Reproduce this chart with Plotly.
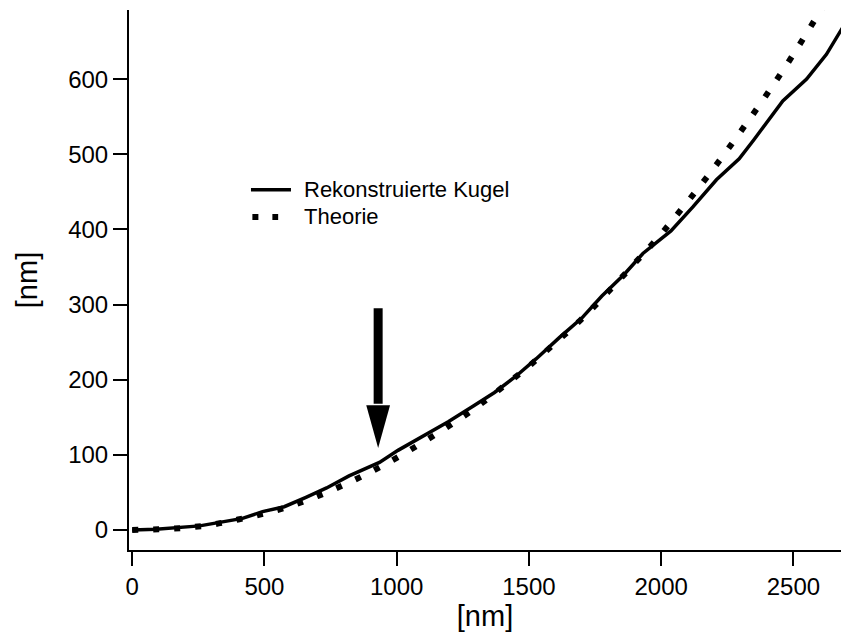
import plotly.graph_objects as go

# Reconstructed sphere profile (solid)
rek_x = [0, 90, 255, 330, 417, 493, 575, 657, 735, 820, 935, 1005, 1100, 1195, 1290,
         1370, 1452, 1528, 1615, 1700, 1775, 1860, 1931, 2037, 2120, 2209, 2295, 2350,
         2460, 2550, 2625, 2685]
rek_y = [0, 1, 5.5, 10, 15.5, 24.5, 31, 43.5, 56, 72, 90, 106, 125, 144, 165,
         183, 205, 228, 256, 282, 311, 340, 368, 398, 430, 466, 494, 519,
         571, 600, 633, 668]

# Theory (dotted)
theo_x = [0, 100, 200, 300, 400, 500, 600, 700, 800, 900, 1000, 1100, 1200, 1300,
          1400, 1500, 1600, 1700, 1800, 1900, 2000, 2100, 2200, 2300, 2400, 2500,
          2600, 2700]
theo_y = [0, 1, 3, 7, 14, 22, 32, 45, 60, 77, 96, 117, 139, 163,
          190, 218, 249, 281, 317, 355, 394, 437, 482, 530, 580, 633,
          690, 750]

series_names = ["Rekonstruierte Kugel", "Theorie"]

x_ticks = [0, 500, 1000, 1500, 2000, 2500]
y_ticks = [0, 100, 200, 300, 400, 500, 600]
x_range = [-12, 2680]
y_range = [-26.6, 692]

# arrow marker (data coordinates)
arrow_x = 930
arrow_tail = 295
arrow_head_base = 166
arrow_tip = 109
arrow_half_w = 45

font = "Liberation Sans, Arial, Helvetica, sans-serif"
solid_style = dict(color="black", width=3.5)
dot_style = dict(color="black", width=6, dash="6px,15px")

fig = go.Figure()
fig.add_trace(go.Scatter(x=rek_x, y=rek_y, mode="lines", name=series_names[0],
                         line=solid_style, showlegend=False))
fig.add_trace(go.Scatter(x=theo_x, y=theo_y, mode="lines", name=series_names[1],
                         line=dict(dot_style, shape="spline"), showlegend=False))

# arrow
fig.add_shape(type="line", xref="x", yref="y", x0=arrow_x, x1=arrow_x,
              y0=arrow_tail, y1=arrow_head_base + 2, line=dict(color="black", width=9))
fig.add_shape(type="path", xref="x", yref="y",
              path=f"M {arrow_x - arrow_half_w},{arrow_head_base} L {arrow_x + arrow_half_w},{arrow_head_base} L {arrow_x},{arrow_tip} Z",
              fillcolor="black", line=dict(color="black", width=0))

# legend (paper coordinates)
leg_rows_y = [0.667, 0.6167]
leg_x0, leg_x1_solid, leg_x1_dot, leg_text_x = 0.1713, 0.2275, 0.2095, 0.2444
fig.add_shape(type="line", xref="paper", yref="paper", x0=leg_x0, x1=leg_x1_solid,
              y0=leg_rows_y[0], y1=leg_rows_y[0], line=solid_style)
fig.add_shape(type="line", xref="paper", yref="paper", x0=leg_x0 + 0.002, x1=leg_x1_dot,
              y0=leg_rows_y[1], y1=leg_rows_y[1], line=dict(color="black", width=6, dash="6px,14px"))
for name, yy in zip(series_names, leg_rows_y):
    fig.add_annotation(x=leg_text_x, y=yy, xref="paper", yref="paper", text=name,
                       showarrow=False, xanchor="left", yanchor="middle", borderpad=0,
                       font=dict(size=22, family=font, color="black"))

fig.update_layout(
    width=841, height=635,
    margin=dict(l=129, r=0, t=10, b=85),
    paper_bgcolor="white", plot_bgcolor="white",
    font=dict(family=font, size=24, color="black"),
    showlegend=False,
    xaxis=dict(range=x_range, tickvals=x_ticks, showgrid=False, zeroline=False,
               showline=True, linecolor="black", linewidth=2,
               ticks="outside", ticklen=14, tickwidth=2, tickcolor="black",
               title=dict(text="[nm]", standoff=0), tickfont=dict(size=24)),
    yaxis=dict(range=y_range, tickvals=y_ticks, showgrid=False, zeroline=False,
               showline=True, linecolor="black", linewidth=2,
               ticks="outside", ticklen=14, tickwidth=2, tickcolor="black",
               title=dict(text="[nm]", standoff=22), tickfont=dict(size=24)),
)

fig.write_html("out.html")
